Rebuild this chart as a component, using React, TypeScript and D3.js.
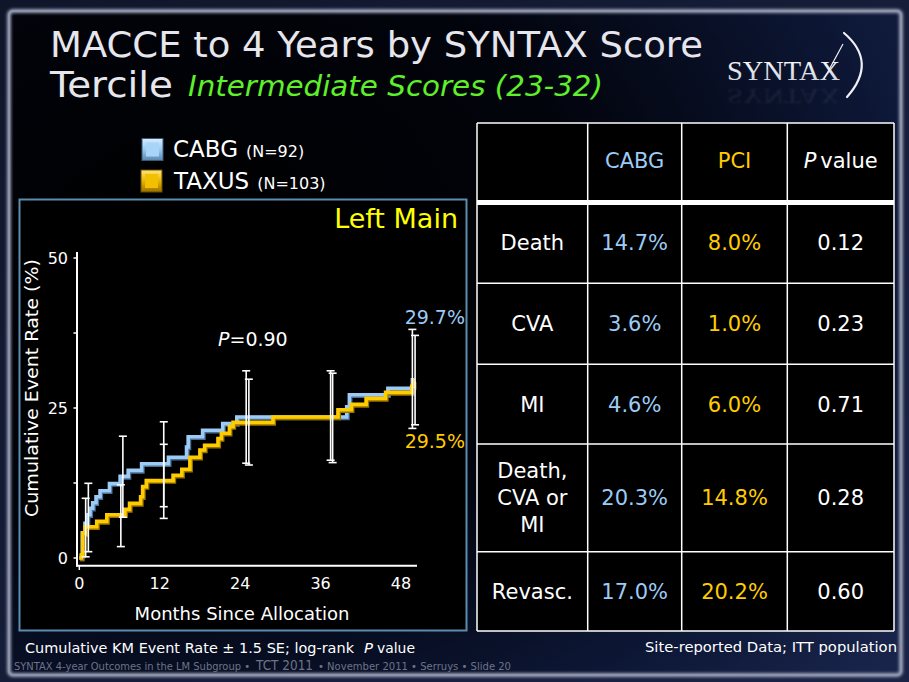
import React from "react";
import * as d3 from "d3";

// ---------- DATA ----------
const cabgMonths = [0, 0.35, 0.45, 0.85, 1.2, 1.6, 2.0, 2.5, 3.1, 4.5, 6.1, 7.3, 9.3, 13.3, 16.0, 16.25, 18.4, 21.4, 23.5, 39.9, 40.3, 46.05, 49.7, 50.0];
const cabgRates = [0, 0.5, 4.2, 5.8, 7.2, 8.3, 9.2, 10.2, 11.2, 12.4, 13.6, 14.6, 15.7, 16.8, 18.5, 20.2, 21.3, 22.4, 23.5, 25.2, 27.2, 28.3, 29.7, 29.7];
const taxusMonths = [0, 0.3, 0.5, 0.85, 2.6, 4.1, 6.8, 7.5, 9.15, 9.45, 10.0, 14.0, 15.3, 16.5, 18.0, 18.7, 20.7, 21.2, 22.4, 22.95, 28.9, 38.6, 40.6, 42.8, 45.7, 49.6, 49.85, 50.0];
const taxusRates = [0, 0.5, 4.1, 5.2, 6.1, 7.2, 8.1, 9.1, 10.2, 11.9, 12.9, 13.8, 14.8, 16.8, 18.0, 18.8, 19.9, 20.8, 21.9, 22.6, 23.5, 24.7, 25.6, 26.6, 27.6, 28.6, 29.5, 29.5];

const cabgBarMonths = [1.35, 6.5, 12.6, 24.9, 37.5, 49.7];
const cabgBarLow = [1.05, 6.8, 8.55, 15.8, 16.3, 21.6];
const cabgBarHigh = [12.45, 20.3, 22.7, 31.2, 31.2, 38.1];
const taxusBarMonths = [0.95, 6.2, 12.6, 25.3, 37.8, 50.1];
const taxusBarLow = [0.2, 1.9, 6.6, 15.5, 15.9, 22.2];
const taxusBarHigh = [9.95, 12.2, 18.95, 29.8, 30.8, 37.1];

const xTicks = [0, 12, 24, 36, 48];
const yTicks = [0, 12.5, 25, 37.5, 50];
const yTickLabels = ["0", "", "25", "", "50"];

const tableHeaders = ["", "CABG", "PCI", "value"];
const tableRows = [["Death"], ["CVA"], ["MI"], ["Death,", "CVA or", "MI"], ["Revasc."]];
const cabgValues = ["14.7%", "3.6%", "4.6%", "20.3%", "17.0%"];
const pciValues = ["8.0%", "1.0%", "6.0%", "14.8%", "20.2%"];
const pValues = ["0.12", "0.23", "0.71", "0.28", "0.60"];

// ---------- STYLE ----------
const BLUE = "#9ccbf5";
const BLUE_DARK = "#4d6f94";
const GOLD = "#ffcc00";
const GOLD_DARK = "#9a7400";
const FONT = "'DejaVu Sans', Verdana, sans-serif";

export default function App() {
  const x = d3.scaleLinear().domain([0, 48]).range([79.3, 401]);
  const y = d3.scaleLinear().domain([0, 50]).range([558, 258]);
  const line = d3
    .line<[number, number]>()
    .x((d) => x(d[0]))
    .y((d) => y(d[1]))
    .curve(d3.curveStepAfter);
  const cabgPath = line(cabgMonths.map((m, i) => [m, cabgRates[i]]) as [number, number][]) || "";
  const taxusPath = line(taxusMonths.map((m, i) => [m, taxusRates[i]]) as [number, number][]) || "";

  const bars = (ms: number[], lo: number[], hi: number[]) =>
    ms.map((m, i) => {
      const cx = x(m);
      const y1 = y(hi[i]);
      const y2 = y(lo[i]);
      return (
        <g key={i} stroke="#ffffff" strokeWidth={1.6}>
          <line x1={cx} x2={cx} y1={y1} y2={y2} />
          <line x1={cx - 4} x2={cx + 4} y1={y1} y2={y1} />
          <line x1={cx - 4} x2={cx + 4} y1={y2} y2={y2} />
        </g>
      );
    });

  // table geometry
  const colX = [477, 587.7, 681.7, 787.3, 894];
  const rowY = [123, 202.5, 283.3, 364.3, 444, 551.7, 631];
  const colC = colX.slice(0, 4).map((v, i) => (v + colX[i + 1]) / 2);

  return (
    <svg
      width={909}
      height={682}
      style={{ position: "absolute", left: 0, top: 0, display: "block" }}
      xmlns="http://www.w3.org/2000/svg"
    >
      <defs>
        <radialGradient id="bgGrad" cx="0.2" cy="0.35" r="1.0">
          <stop offset="0" stopColor="#000000" />
          <stop offset="0.45" stopColor="#02040c" />
          <stop offset="0.8" stopColor="#0d1736" />
          <stop offset="1" stopColor="#18244a" />
        </radialGradient>
        <linearGradient id="outerGrad" x1="0" y1="0" x2="1" y2="1">
          <stop offset="0" stopColor="#10162a" />
          <stop offset="1" stopColor="#1a2446" />
        </linearGradient>
        <linearGradient id="logoGrad" x1="0" y1="0" x2="0" y2="1">
          <stop offset="0" stopColor="#ffffff" />
          <stop offset="1" stopColor="#c8ccd8" />
        </linearGradient>
        <linearGradient id="cabgSq" x1="0" y1="0" x2="0" y2="1">
          <stop offset="0" stopColor="#d8ecff" />
          <stop offset="0.5" stopColor="#9cc9f0" />
          <stop offset="1" stopColor="#5a86b0" />
        </linearGradient>
        <linearGradient id="taxSq" x1="0" y1="0" x2="0" y2="1">
          <stop offset="0" stopColor="#ffe680" />
          <stop offset="0.5" stopColor="#e8b400" />
          <stop offset="1" stopColor="#9a7000" />
        </linearGradient>
        <filter id="glow" x="-5%" y="-5%" width="110%" height="110%">
          <feGaussianBlur stdDeviation="1.5" />
        </filter>
        <filter id="soft" x="-5%" y="-20%" width="110%" height="140%">
          <feGaussianBlur stdDeviation="0.8" />
        </filter>
      </defs>

      {/* background */}
      <rect x={0} y={0} width={909} height={682} fill="url(#outerGrad)" />
      <rect x={9} y={11} width={892} height={664} rx={4} fill="url(#bgGrad)" />
      <rect x={9} y={11} width={892} height={664} rx={4} fill="none" stroke="#9aa0b8" strokeWidth={4} filter="url(#glow)" />
      <rect x={9} y={11} width={892} height={664} rx={4} fill="none" stroke="#8c92a8" strokeWidth={2} />

      {/* title */}
      <text x={50} y={57} fontFamily={FONT} fontSize={36} fill="#e6e6ec" textLength={653} lengthAdjust="spacingAndGlyphs">
        MACCE to 4 Years by SYNTAX Score
      </text>
      <text x={50} y={97} fontFamily={FONT} fontSize={36} fill="#e6e6ec" textLength={123} lengthAdjust="spacingAndGlyphs">
        Tercile
      </text>
      <text x={188} y={96} fontFamily={FONT} fontSize={28} fontStyle="italic" fill="#5ef02a" textLength={415} lengthAdjust="spacingAndGlyphs">
        Intermediate Scores (23-32)
      </text>

      {/* logo */}
      <g>
        <g transform="translate(0,178) scale(1,-1)" opacity={0.1} filter="url(#soft)">
          <text x={727} y={89} fontFamily="'Liberation Serif', 'DejaVu Serif', serif" fontSize={22} fill="#aab0d0" textLength={113} lengthAdjust="spacingAndGlyphs">
            SYNTAX
          </text>
        </g>
        <text x={727} y={80} fontFamily="'Liberation Serif', 'DejaVu Serif', serif" fontSize={27} fill="url(#logoGrad)" textLength={113} lengthAdjust="spacingAndGlyphs">
          SYNTAX
        </text>
        <path d="M 844 33 Q 878 62 847 97" fill="none" stroke="#f0f0f6" strokeWidth={2.2} strokeLinecap="round" />
        <path d="M 824 79 L 843 44" fill="none" stroke="#f0f0f6" strokeWidth={1.2} />
      </g>

      {/* legend */}
      <rect x={142} y={138.5} width={21} height={22} fill="url(#cabgSq)" stroke="#3a5a7a" strokeWidth={1} />
      <rect x={146} y={142.5} width={13} height={14} fill="#a8d4fa" />
      <text x={173} y={157} fontFamily={FONT} fontSize={23} fill="#ffffff">
        CABG
        <tspan fontSize={16} dx={8}>(N=92)</tspan>
      </text>
      <rect x={141} y={170} width={21} height={22} fill="url(#taxSq)" stroke="#6a5000" strokeWidth={1} />
      <rect x={145} y={174} width={13} height={14} fill="#f2c000" />
      <text x={174} y={189} fontFamily={FONT} fontSize={23} fill="#ffffff">
        TAXUS
        <tspan fontSize={16} dx={8}>(N=103)</tspan>
      </text>

      {/* plot box */}
      <rect x={19.5} y={199.5} width={447} height={431} fill="#000000" stroke="#5a8db0" strokeWidth={2} />
      <text x={458} y={228} textAnchor="end" fontFamily={FONT} fontSize={27} fill="#ffff00">
        Left Main
      </text>

      {/* axes */}
      <line x1={77} x2={77} y1={252} y2={566.5} stroke="#ffffff" strokeWidth={2} />
      <line x1={76} x2={417} y1={565.7} y2={565.7} stroke="#ffffff" strokeWidth={2} />
      {yTicks.map((t, i) => (
        <g key={i}>
          <line x1={73.5} x2={77} y1={y(t)} y2={y(t)} stroke="#ffffff" strokeWidth={1.5} />
          {yTickLabels[i] && (
            <text x={68} y={y(t)} dy="0.36em" textAnchor="end" fontFamily={FONT} fontSize={16} fill="#ffffff">
              {yTickLabels[i]}
            </text>
          )}
        </g>
      ))}
      <line x1={x(0)} x2={x(0)} y1={566} y2={570} stroke="#ffffff" strokeWidth={1.5} />
      {xTicks.map((t) => (
        <text key={t} x={x(t)} y={583.5} dy="0.36em" textAnchor="middle" fontFamily={FONT} fontSize={16} fill="#ffffff">
          {t}
        </text>
      ))}
      <text x={242} y={613.5} dy="0.36em" textAnchor="middle" fontFamily={FONT} fontSize={18} fill="#ffffff">
        Months Since Allocation
      </text>
      <text
        transform="translate(31,388) rotate(-90)"
        dy="0.36em"
        textAnchor="middle"
        fontFamily={FONT}
        fontSize={18.5}
        fill="#ffffff"
        textLength={258}
        lengthAdjust="spacingAndGlyphs"
      >
        Cumulative Event Rate (%)
      </text>

      {/* curves */}
      <path d={cabgPath} fill="none" stroke={BLUE_DARK} strokeWidth={4.5} transform="translate(0.8,1)" />
      <path d={cabgPath} fill="none" stroke={BLUE} strokeWidth={3.6} />
      <path d={taxusPath} fill="none" stroke={GOLD_DARK} strokeWidth={4.5} transform="translate(0.8,1)" />
      <path d={taxusPath} fill="none" stroke={GOLD} strokeWidth={3.6} />

      {/* error bars */}
      {bars(cabgBarMonths, cabgBarLow, cabgBarHigh)}
      {bars(taxusBarMonths, taxusBarLow, taxusBarHigh)}

      {/* annotations */}
      <text x={218} y={339.5} dy="0.36em" fontFamily={FONT} fontSize={19} fill="#ffffff">
        <tspan fontStyle="italic">P</tspan>=0.90
      </text>
      <text x={465} y={317.5} dy="0.36em" textAnchor="end" fontFamily={FONT} fontSize={19} fill={BLUE}>
        29.7%
      </text>
      <text x={465} y={441.5} dy="0.36em" textAnchor="end" fontFamily={FONT} fontSize={19} fill={GOLD}>
        29.5%
      </text>

      {/* table */}
      <rect x={colX[0]} y={rowY[0]} width={colX[4] - colX[0]} height={rowY[6] - rowY[0]} fill="#000000" />
      {rowY.map((ry, i) =>
        i === 1 ? (
          <rect key={i} x={colX[0]} y={ry - 2.5} width={colX[4] - colX[0]} height={5} fill="#ffffff" />
        ) : (
          <line key={i} x1={colX[0]} x2={colX[4]} y1={ry} y2={ry} stroke="#ffffff" strokeWidth={1.5} />
        )
      )}
      {colX.map((cx, i) => (
        <line key={i} x1={cx} x2={cx} y1={rowY[0]} y2={rowY[6]} stroke="#ffffff" strokeWidth={1.5} />
      ))}
      <text x={colC[1]} y={160} dy="0.36em" textAnchor="middle" fontFamily={FONT} fontSize={21} fill={BLUE}>
        {tableHeaders[1]}
      </text>
      <text x={colC[2]} y={160} dy="0.36em" textAnchor="middle" fontFamily={FONT} fontSize={21} fill={GOLD}>
        {tableHeaders[2]}
      </text>
      <text x={colC[3]} y={160} dy="0.36em" textAnchor="middle" fontFamily={FONT} fontSize={21} fill="#ffffff">
        <tspan fontStyle="italic">P</tspan>
        <tspan dx={4}>{tableHeaders[3]}</tspan>
      </text>
      {tableRows.map((lines, r) => {
        const cy = (rowY[r + 1] + rowY[r + 2]) / 2;
        const lh = 27;
        return (
          <g key={r} fontFamily={FONT} fontSize={21} textAnchor="middle">
            {lines.map((ln, k) => (
              <text key={k} x={colC[0]} y={cy + (k - (lines.length - 1) / 2) * lh} dy="0.36em" fill="#ffffff">
                {ln}
              </text>
            ))}
            <text x={colC[1]} y={cy} dy="0.36em" fill={BLUE}>
              {cabgValues[r]}
            </text>
            <text x={colC[2]} y={cy} dy="0.36em" fill={GOLD}>
              {pciValues[r]}
            </text>
            <text x={colC[3]} y={cy} dy="0.36em" fill="#ffffff">
              {pValues[r]}
            </text>
          </g>
        );
      })}

      {/* footer */}
      <g fontFamily={FONT} fill="#ffffff">
        <text x={25} y={653} fontSize={13.5} textLength={329} lengthAdjust="spacingAndGlyphs">
          Cumulative KM Event Rate ± 1.5 SE; log-rank
        </text>
        <text x={364} y={653} fontSize={14} fontStyle="italic" textLength={9} lengthAdjust="spacingAndGlyphs">
          P
        </text>
        <text x={377} y={653} fontSize={14} textLength={38} lengthAdjust="spacingAndGlyphs">
          value
        </text>
        <text x={645} y={652} fontSize={14} textLength={252} lengthAdjust="spacingAndGlyphs">
          Site-reported Data; ITT population
        </text>
      </g>
      <g fontFamily={FONT} fill="#6d7488">
        <text x={14} y={670} fontSize={10.5} textLength={236} lengthAdjust="spacingAndGlyphs">
          SYNTAX 4-year Outcomes in the LM Subgroup •
        </text>
        <text x={256} y={670} fontSize={14} textLength={57} lengthAdjust="spacingAndGlyphs">
          TCT 2011
        </text>
        <text x={318} y={670} fontSize={10.5} textLength={193} lengthAdjust="spacingAndGlyphs">
          • November 2011 • Serruys • Slide 20
        </text>
      </g>
    </svg>
  );
}
